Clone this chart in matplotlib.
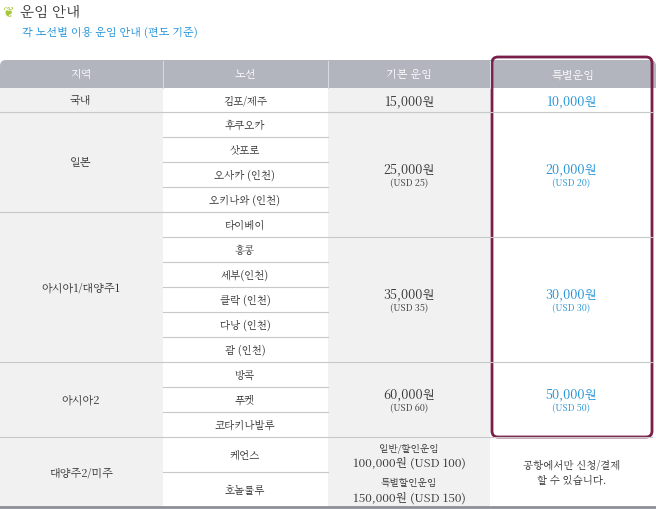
import matplotlib.pyplot as plt
from matplotlib import font_manager
from matplotlib.patches import Rectangle, FancyBboxPatch

# 한글 폰트 찾기
cjk = [f.name for f in font_manager.fontManager.ttflist if "CJK" in f.name]
kr = [n for n in cjk if "KR" in n] + cjk
plt.rcParams["font.family"] = [kr[0] if kr else "Noto Sans CJK KR", "DejaVu Sans"]

headers = ["지역", "노선", "기본 운임", "특별운임"]
routes = ["김포/제주", "후쿠오카", "삿포로", "오사카 (인천)", "오키나와 (인천)", "타이베이",
          "홍콩", "세부(인천)", "클락 (인천)", "다낭 (인천)", "괌 (인천)", "방콕", "푸켓",
          "코타키나발루", "케언스", "호놀룰루"]
# region name, first route index, route count
regions = [("국내", 0, 1), ("일본", 1, 4), ("아시아1/대양주1", 5, 6), ("아시아2", 11, 3), ("대양주2/미주", 14, 2)]
# fare groups: first route index, count, krw, usd
fare_groups = [(0, 1, "15,000", None), (1, 5, "25,000", 25), (6, 5, "35,000", 35), (11, 3, "60,000", 60)]
special_groups = [(0, 1, "10,000", None), (1, 5, "20,000", 20), (6, 5, "30,000", 30), (11, 3, "50,000", 50)]

col_x = [0, 163, 328, 490, 656]
row_h = [24] + [25] * 13 + [35, 35]
top = 89
row_y = [top]
for h in row_h:
    row_y.append(row_y[-1] + h)

fig = plt.figure(figsize=(6.56, 5.10), dpi=100)
ax = fig.add_axes([0, 0, 1, 1])
ax.set_xlim(0, 656)
ax.set_ylim(510, 0)
ax.axis("off")

dark = "#333333"
blue = "#1a8fd6"
line = "#c8c8c8"

# title
ax.text(8, 12, "❦", color="#a8c83a", fontsize=10, va="center", ha="center", family="DejaVu Sans")
ax.text(20, 12, "운임 안내", color=dark, fontsize=10.5, va="center")
ax.text(22, 32, "각 노선별 이용 운임 안내 (편도 기준)", color=blue, fontsize=8, va="center")

# header
ax.add_patch(FancyBboxPatch((0, 61), 656, 28, boxstyle="round,pad=0,rounding_size=6", fc="#b2b4be", ec="none"))
ax.add_patch(Rectangle((0, 76), 656, 13, fc="#b2b4be", ec="none"))
for i, h in enumerate(headers):
    ax.text((col_x[i] + col_x[i + 1]) / 2, 75, h, color="white", fontsize=8, ha="center", va="center")
    if i > 0:
        ax.plot([col_x[i], col_x[i]], [62, 89], color="#d8d9de", lw=0.8)

# body backgrounds
bottom = row_y[-1]
ax.add_patch(Rectangle((0, top), 163, bottom - top, fc="#f1f1f1", ec="none"))
ax.add_patch(Rectangle((328, top), 162, bottom - top, fc="#f1f1f1", ec="none"))

for i, r in enumerate(routes):
    yc = (row_y[i] + row_y[i + 1]) / 2
    ax.text(245, yc, r, color=dark, fontsize=7.5, ha="center", va="center")
    ax.plot([163, 328], [row_y[i + 1]] * 2, color=line, lw=0.8)

for name, s, n in regions:
    y0, y1 = row_y[s], row_y[s + n]
    ax.text(81, (y0 + y1) / 2, name, color=dark, fontsize=8, ha="center", va="center")
    ax.plot([0, 163], [y1, y1], color=line, lw=0.8)

for groups, x0, col in [(fare_groups, 328, dark), (special_groups, 490, blue)]:
    for s, n, krw, usd in groups:
        y0, y1 = row_y[s], row_y[s + n]
        yc = (y0 + y1) / 2
        xc = x0 + 81
        if usd is None:
            ax.text(xc, yc, krw + "원", color=col, fontsize=9, ha="center", va="center")
        else:
            ax.text(xc, yc - 6, krw + "원", color=col, fontsize=9, ha="center", va="center")
            ax.text(xc, yc + 8, "(USD %d)" % usd, color=col, fontsize=6.5, ha="center", va="center")
        ax.plot([x0, x0 + 162], [y1, y1], color=line, lw=0.8)

# oceania/america fares
y0 = row_y[14]
ax.text(409, y0 + 11, "일반/할인운임", color=dark, fontsize=7, ha="center", va="center")
ax.text(409, y0 + 25, "100,000원 (USD 100)", color=dark, fontsize=8.5, ha="center", va="center")
ax.text(409, y0 + 45, "특별할인운임", color=dark, fontsize=7, ha="center", va="center")
ax.text(409, y0 + 60, "150,000원 (USD 150)", color=dark, fontsize=8.5, ha="center", va="center")
ax.text(572, (y0 + bottom) / 2, "공항에서만 신청/결제\n할 수 있습니다.", color=dark, fontsize=7.5,
        ha="center", va="center", linespacing=1.4)

ax.plot([0, 656], [bottom, bottom], color="#8e9099", lw=2)

# highlight box
ax.add_patch(FancyBboxPatch((492, 58), 160, 380, boxstyle="round,pad=0,rounding_size=6",
                            fc="none", ec="#7a1f4a", lw=2))

fig.savefig("out.png", dpi=100)
